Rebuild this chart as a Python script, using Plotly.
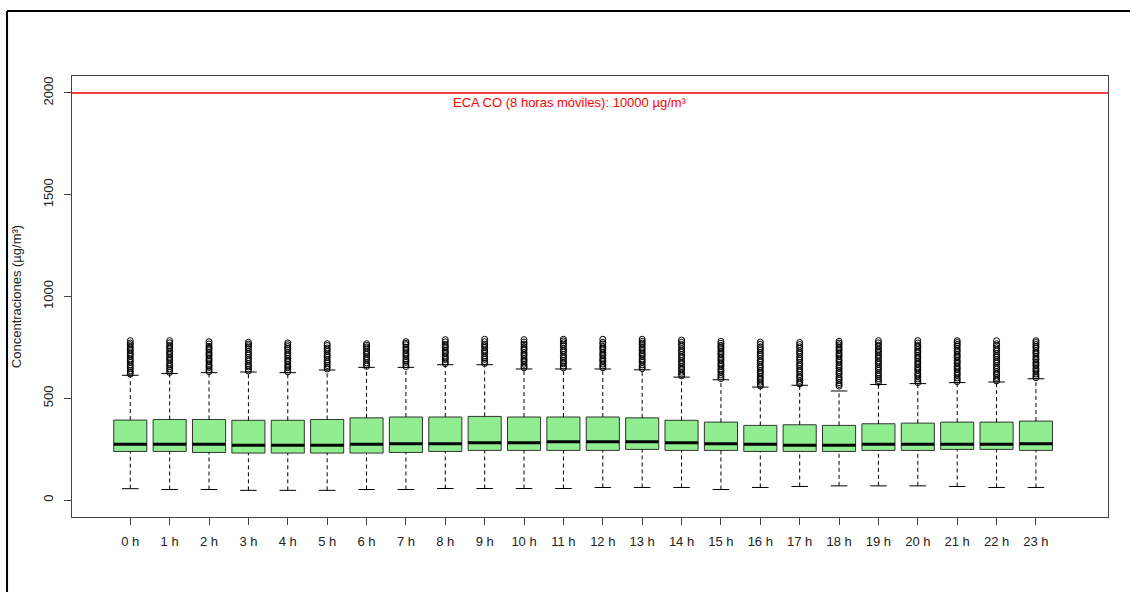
import plotly.graph_objects as go

hours = [f"{h} h" for h in range(24)]

q1 = [239, 239, 234, 231, 231, 231, 231, 234, 239, 244, 244, 244,
      244, 249, 244, 244, 239, 239, 239, 244, 244, 249, 249, 244]
median = [274, 274, 274, 269, 269, 269, 274, 277, 277, 282, 282, 287,
          287, 287, 282, 277, 274, 269, 269, 274, 274, 274, 274, 277]
q3 = [393, 396, 396, 392, 392, 396, 404, 408, 408, 411, 408, 408,
      408, 404, 392, 383, 367, 370, 367, 375, 378, 383, 383, 388]
lower_whisker = [56, 52, 52, 48, 48, 48, 52, 52, 57, 57, 57, 57,
                 62, 62, 62, 52, 62, 67, 70, 70, 70, 67, 62, 62]
upper_whisker = [613, 622, 626, 629, 626, 639, 652, 652, 665, 665, 644, 644,
                 644, 640, 604, 591, 555, 564, 536, 568, 572, 577, 580, 596]

outliers = [
    [619, 628, 636, 647, 655, 664, 676, 684, 693, 705, 713, 722, 734, 742, 751, 763, 771, 783],
    [627, 637, 645, 656, 664, 673, 685, 693, 702, 714, 722, 731, 743, 751, 760, 772, 783],
    [631, 640, 651, 659, 668, 680, 688, 697, 709, 717, 726, 738, 746, 755, 767, 778],
    [634, 643, 654, 662, 671, 683, 691, 700, 712, 720, 729, 741, 749, 758, 766, 775],
    [630, 639, 650, 658, 667, 679, 687, 696, 708, 716, 725, 737, 745, 754, 763, 772],
    [644, 653, 661, 672, 680, 689, 701, 709, 718, 730, 738, 747, 759, 768],
    [657, 665, 674, 686, 694, 703, 715, 723, 732, 744, 752, 760, 768],
    [656, 665, 676, 684, 693, 705, 713, 722, 734, 742, 751, 763, 770, 778],
    [670, 679, 690, 698, 707, 719, 727, 736, 748, 756, 765, 777, 788],
    [671, 680, 691, 699, 708, 720, 728, 737, 749, 757, 766, 778, 790],
    [650, 658, 667, 679, 687, 696, 708, 716, 725, 737, 745, 754, 766, 776, 788],
    [649, 658, 669, 677, 686, 698, 706, 715, 727, 735, 744, 756, 764, 773, 782, 790],
    [650, 659, 668, 680, 688, 697, 709, 717, 726, 738, 746, 755, 767, 775, 790],
    [646, 655, 664, 676, 684, 693, 705, 713, 722, 734, 742, 751, 763, 771, 780, 790],
    [610, 619, 628, 640, 648, 657, 669, 677, 686, 698, 706, 715, 727, 735, 744, 756, 764, 775, 786],
    [597, 606, 615, 627, 635, 644, 656, 664, 673, 685, 693, 702, 714, 722, 731, 743, 751, 760, 770, 780],
    [561, 570, 579, 591, 599, 608, 620, 628, 637, 649, 657, 666, 678, 686, 695, 707, 715, 724, 736, 744, 753, 765, 776],
    [570, 579, 588, 600, 608, 617, 629, 637, 646, 658, 666, 675, 687, 695, 704, 716, 724, 733, 745, 753, 764, 774],
    [560, 568, 577, 589, 597, 606, 618, 626, 635, 647, 655, 664, 676, 684, 693, 705, 713, 722, 734, 742, 751, 763, 771, 780],
    [578, 587, 596, 608, 616, 625, 637, 645, 654, 666, 674, 683, 695, 703, 712, 724, 732, 741, 753, 761, 772, 783],
    [577, 586, 595, 607, 615, 624, 636, 644, 653, 665, 673, 682, 694, 702, 711, 723, 731, 740, 752, 760, 771, 783],
    [582, 591, 600, 612, 620, 629, 641, 649, 658, 670, 678, 687, 699, 707, 716, 728, 736, 745, 757, 765, 774, 783],
    [585, 594, 603, 615, 623, 632, 644, 652, 661, 673, 681, 690, 702, 710, 719, 731, 739, 748, 760, 768, 783],
    [601, 610, 619, 631, 639, 648, 660, 668, 677, 689, 697, 706, 718, 726, 735, 747, 755, 764, 774, 783],
]

eca_value = 2000
eca_label = "ECA CO (8 horas móviles): 10000 µg/m³"

FONT = "Liberation Sans, Arial, sans-serif"
box_w = 0.84
cap_w = 0.42
xs = list(range(len(hours)))

fig = go.Figure()

# whiskers (dashed, R style)
wx, wy = [], []
for i in xs:
    wx += [i, i, None, i, i, None]
    wy += [lower_whisker[i], q1[i], None, q3[i], upper_whisker[i], None]
fig.add_trace(go.Scatter(x=wx, y=wy, mode="lines",
                         line=dict(color="black", width=1, dash="4px,3px"),
                         hoverinfo="skip"))

# whisker caps
cx, cy = [], []
for i in xs:
    for v in (lower_whisker[i], upper_whisker[i]):
        cx += [i - cap_w / 2, i + cap_w / 2, None]
        cy += [v, v, None]
fig.add_trace(go.Scatter(x=cx, y=cy, mode="lines",
                         line=dict(color="black", width=1), hoverinfo="skip"))

# boxes
fig.add_trace(go.Bar(x=xs, y=[b - a for a, b in zip(q1, q3)], base=q1, width=box_w,
                     marker=dict(color="#90EE90", line=dict(color="#333333", width=1))))

# medians
mx, my = [], []
for i in xs:
    mx += [i - box_w / 2, i + box_w / 2, None]
    my += [median[i], median[i], None]
fig.add_trace(go.Scatter(x=mx, y=my, mode="lines",
                         line=dict(color="black", width=3), hoverinfo="skip"))

# outliers
ox, oy = [], []
for i in xs:
    ox += [i] * len(outliers[i])
    oy += outliers[i]
fig.add_trace(go.Scatter(x=ox, y=oy, mode="markers",
                         marker=dict(symbol="circle-open", size=6, color="black",
                                     line=dict(width=1))))

fig.add_shape(type="line", xref="paper", yref="y", x0=0, x1=1, y0=eca_value, y1=eca_value,
              line=dict(color="red", width=1.5))
fig.add_annotation(x=0.4807, xref="paper", y=eca_value, yref="y", text=eca_label,
                   showarrow=False, yanchor="top", xanchor="center", yshift=0,
                   font=dict(family=FONT, size=13, color="red"))

# outer frame of the screenshot
fig.add_shape(type="line", xref="paper", yref="paper", x0=-0.0627, x1=-0.0627,
              y0=-0.2, y1=1.1474, line=dict(color="black", width=2))
fig.add_shape(type="line", xref="paper", yref="paper", x0=-0.0627, x1=1.03,
              y0=1.1474, y1=1.1474, line=dict(color="black", width=2))

fig.update_layout(
    width=1130, height=592,
    margin=dict(l=72, r=22, t=76, b=75),
    plot_bgcolor="white", paper_bgcolor="white",
    showlegend=False,
    font=dict(family=FONT, size=13, color="#222222"),
    xaxis=dict(range=[-1.48, 24.83], tickvals=xs, ticktext=hours, ticks="outside",
               ticklen=7, tickcolor="#444444", showgrid=False, zeroline=False,
               showline=True, linecolor="#444444", mirror=True, ticklabelstandoff=5,
               tickfont=dict(size=13, color="#222222")),
    yaxis=dict(range=[-83, 2083], tickvals=[0, 500, 1000, 1500, 2000], ticks="outside",
               ticklen=7, tickcolor="#444444", tickangle=-90, showgrid=False,
               zeroline=False, showline=True, linecolor="#444444", mirror=True,
               ticklabelstandoff=6, tickfont=dict(size=13, color="#222222"),
               title=dict(text="Concentraciones (µg/m³)", standoff=16,
                          font=dict(size=13, color="#222222"))),
)

fig.write_html("out.html", config={"displayModeBar": False},
               post_script="document.body.style.margin='0';document.body.style.overflow='hidden';")
